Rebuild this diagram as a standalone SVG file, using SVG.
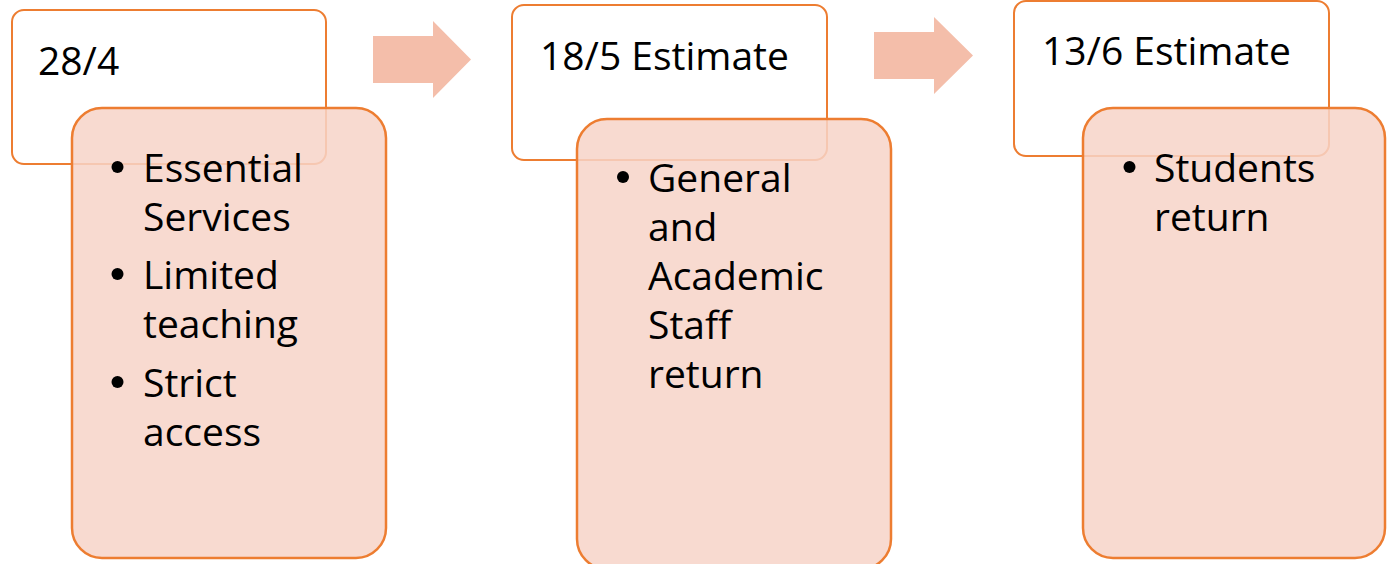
<svg xmlns="http://www.w3.org/2000/svg" width="1387" height="564" viewBox="0 0 1387 564">
<style>
.hdr{fill:#fff;stroke:#ED7D31;stroke-width:2}
.body{fill:#F7D3C8;fill-opacity:0.85;stroke:#ED7D31;stroke-width:2.5}
.arr{fill:#F4BEAA}
text{font-family:"Open Sans","Noto Sans",sans-serif;font-size:39px;fill:#000}
.b{fill:#000}
</style>
<g id="connectors">
<path class="arr" d="M373 36 H433 V21 L471 59.5 L433 98 V83 H373 Z"/>
<path class="arr" d="M874 32 H934 V17 L973 55.5 L934 94 V79 H874 Z"/>
</g>
<g id="node1">
<rect class="hdr" x="12" y="10" width="314" height="154" rx="12"/>
<text x="38" y="75">28/4</text>
<rect class="body" x="72" y="108" width="314" height="450" rx="30"/>
<circle class="b" cx="117.5" cy="167" r="6"/>
<text x="143" y="182">Essential</text>
<text x="143" y="231">Services</text>
<circle class="b" cx="117.5" cy="274" r="6"/>
<text x="143" y="289">Limited</text>
<text x="143" y="338">teaching</text>
<circle class="b" cx="117.5" cy="382" r="6"/>
<text x="143" y="397">Strict</text>
<text x="143" y="446">access</text>
</g>
<g id="node2">
<rect class="hdr" x="512" y="5" width="315" height="155" rx="12"/>
<text x="540" y="70">18/5 Estimate</text>
<rect class="body" x="577" y="119" width="314" height="450" rx="30"/>
<circle class="b" cx="623" cy="177" r="6"/>
<text x="648" y="192">General</text>
<text x="648" y="241">and</text>
<text x="648" y="290">Academic</text>
<text x="648" y="339">Staff</text>
<text x="648" y="388">return</text>
</g>
<g id="node3">
<rect class="hdr" x="1014" y="1" width="315" height="155" rx="12"/>
<text x="1042" y="65">13/6 Estimate</text>
<rect class="body" x="1083" y="108" width="302" height="450" rx="30"/>
<circle class="b" cx="1129.5" cy="167" r="6"/>
<text x="1154" y="182">Students</text>
<text x="1154" y="231">return</text>
</g>
</svg>
